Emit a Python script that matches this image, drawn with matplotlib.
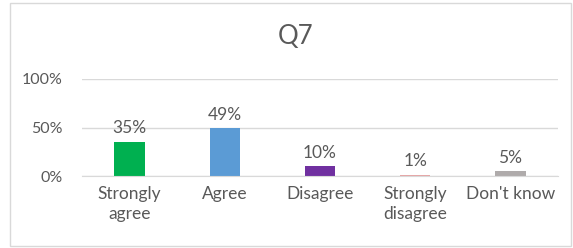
import matplotlib.pyplot as plt
from matplotlib.patches import Rectangle
from matplotlib.ticker import PercentFormatter

categories = ["Strongly\nagree", "Agree", "Disagree", "Strongly\ndisagree", "Don't know"]
values = [0.35, 0.49, 0.10, 0.01, 0.05]
labels = ["35%", "49%", "10%", "1%", "5%"]
colors = ["#00B050", "#5B9BD5", "#7030A0", "#E6A6A6", "#AFABAB"]
yticks = [0, 0.5, 1.0]

plt.rcParams["font.family"] = ["Lato", "DejaVu Sans"]
txt = "#595959"

fig = plt.figure(figsize=(5.73, 2.48), dpi=100)
fig.patches.append(Rectangle((10 / 573, 2 / 248), 561 / 573, 243 / 248, transform=fig.transFigure,
                             fill=False, edgecolor="#D9D9D9", linewidth=1))

ax = fig.add_axes([82 / 573, 1 - 176 / 248, 476 / 573, 97 / 248])
x = range(len(categories))
bars = ax.bar(x, values, width=0.32, color=colors, zorder=3)

for barra, rotulo in zip(bars, labels):
    ax.annotate(rotulo, (barra.get_x() + barra.get_width() / 2, barra.get_height()),
                xytext=(0, 4), textcoords="offset points", ha="center", va="bottom",
                fontsize=12.5, color=txt)

ax.set_xlim(-0.5, len(categories) - 0.5)
ax.set_ylim(0, 1)
ax.set_yticks(yticks)
ax.yaxis.set_major_formatter(PercentFormatter(1.0, decimals=0))
ax.set_xticks(list(x))
ax.set_xticklabels(categories, fontsize=12.5, color=txt, linespacing=1.3)
ax.tick_params(axis="y", length=0, pad=14, labelsize=11.5, labelcolor=txt)
ax.tick_params(axis="x", length=0, pad=7)
ax.grid(axis="y", color="#D9D9D9", linewidth=1, zorder=0)
for lado in ["top", "right", "left"]:
    ax.spines[lado].set_visible(False)
ax.spines["bottom"].set_color("#D9D9D9")
ax.spines["bottom"].set_zorder(4)

fig.text(296 / 573, 1 - 37 / 248, "Q7", ha="center", va="center", fontsize=18.5, color=txt)

fig.savefig("out.png", dpi=100)
